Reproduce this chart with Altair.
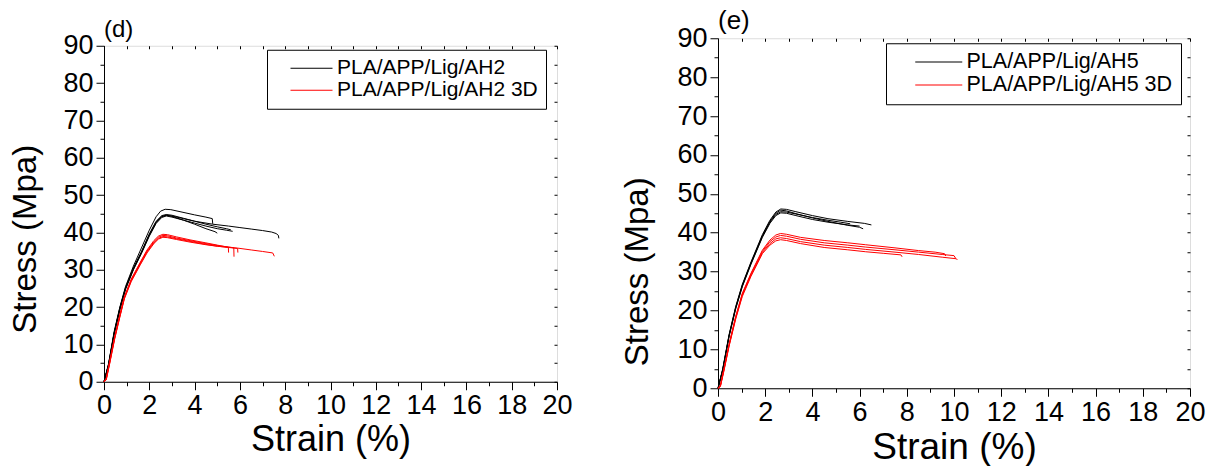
import altair as alt
import pandas as pd

# ---- (d) PLA/APP/Lig/AH2 : injection moulded replicates (strain %, stress MPa)
D_AH2_1 = [(0, 0), (0.2, 4.8), (0.45, 13.5), (0.7, 20), (0.95, 25.5), (1.3, 31), (1.65, 35.8),
           (2.0, 40.6), (2.3, 44.2), (2.5, 45.7), (2.7, 46.2), (2.95, 46.1), (3.4, 45.5),
           (4.0, 44.7), (4.5, 44.1), (4.78, 43.7), (4.8, 42.3)]
D_AH2_2 = [(0, 0), (0.2, 4.5), (0.45, 13), (0.7, 19.5), (0.95, 25), (1.3, 30.2), (1.65, 34.5),
           (2.0, 39.2), (2.3, 42.6), (2.55, 44.2), (2.75, 44.6), (3.0, 44.3), (3.5, 43.3),
           (4.0, 42.2), (4.5, 41.0), (4.9, 40.2), (5.0, 39.8)]
D_AH2_3 = [(0, 0), (0.2, 4.3), (0.45, 12.8), (0.7, 19.2), (0.95, 24.7), (1.3, 30), (1.65, 34.3),
           (2.0, 39), (2.3, 42.4), (2.55, 44), (2.75, 44.4), (3.0, 44.1), (3.5, 43.3),
           (4.0, 42.5), (4.5, 41.7), (5.0, 41.0), (5.4, 40.6), (5.68, 40.3)]
D_AH2_4 = [(0, 0), (0.2, 4.6), (0.45, 13.2), (0.7, 19.8), (0.95, 25.2), (1.3, 30.5), (1.65, 34.8),
           (2.0, 39.6), (2.3, 43), (2.55, 44.5), (2.75, 44.8), (3.0, 44.6), (3.5, 43.8),
           (4.0, 43.0), (4.5, 42.2), (5.0, 41.5), (5.4, 41.0), (5.6, 40.7)]
D_AH2_5 = [(0, 0), (0.2, 4.4), (0.45, 13), (0.7, 19.6), (0.95, 25), (1.3, 30.3), (1.65, 34.6),
           (2.0, 39.4), (2.3, 42.8), (2.55, 44.3), (2.75, 44.6), (3.0, 44.4), (3.5, 43.7),
           (4.0, 43.0), (4.8, 42.2), (5.5, 41.7), (6.0, 41.3), (6.5, 40.9), (7.0, 40.5),
           (7.4, 40.1), (7.6, 39.7), (7.7, 39.2), (7.72, 38.4)]

# ---- (d) PLA/APP/Lig/AH2 3D : printed replicates
D_3D_1 = [(0, 0), (0.1, 1), (0.25, 5.5), (0.47, 12), (0.7, 18), (0.9, 22.8), (1.2, 27.5),
          (1.6, 32), (1.9, 35.3), (2.2, 37.8), (2.4, 39), (2.6, 39.5), (2.8, 39.4), (3.2, 38.8),
          (3.8, 38), (4.5, 37.2), (5.0, 36.6), (5.49, 36.0), (5.5, 34.6)]
D_3D_2 = [(0, 0), (0.1, 0.8), (0.25, 5.2), (0.47, 11.8), (0.7, 17.7), (0.9, 22.6), (1.2, 27.2),
          (1.6, 31.8), (1.9, 35), (2.2, 37.5), (2.4, 38.7), (2.6, 39.2), (2.8, 39.1), (3.2, 38.5),
          (3.8, 37.8), (4.5, 37.0), (5.0, 36.5), (5.73, 35.9), (5.74, 33.5)]
D_3D_3 = [(0, 0), (0.1, 0.6), (0.25, 5.0), (0.47, 11.6), (0.7, 17.5), (0.9, 22.4), (1.2, 27),
          (1.6, 31.5), (1.9, 34.8), (2.2, 37.2), (2.4, 38.4), (2.6, 38.9), (2.8, 38.8), (3.2, 38.3),
          (3.8, 37.6), (4.5, 36.8), (5.0, 36.3), (5.9, 35.7), (5.91, 34.6)]
D_3D_4 = [(0, 0), (0.1, 0.5), (0.25, 4.8), (0.47, 11.4), (0.7, 17.3), (0.9, 22.2), (1.2, 26.8),
          (1.6, 31.3), (1.9, 34.5), (2.2, 37.0), (2.4, 38.2), (2.6, 38.7), (2.8, 38.6), (3.2, 38.1),
          (3.8, 37.4), (4.5, 36.7), (5.0, 36.3), (5.9, 35.8), (6.5, 35.3), (7.0, 34.9),
          (7.45, 34.5), (7.52, 33.6)]

# ---- (e) PLA/APP/Lig/AH5 : injection moulded replicates
E_AH5_1 = [(0, 0), (0.2, 5), (0.47, 13.8), (0.75, 21), (1.03, 26.7), (1.4, 32.5), (1.88, 39.5),
           (2.2, 43.2), (2.45, 45.3), (2.66, 46.1), (2.9, 46.0), (3.3, 45.4), (4.0, 44.4),
           (4.66, 43.6), (5.5, 42.9), (6.2, 42.4), (6.5, 42.0)]
E_AH5_2 = [(0, 0), (0.2, 4.8), (0.47, 13.6), (0.75, 20.8), (1.03, 26.5), (1.4, 32.3), (1.88, 39.2),
           (2.2, 42.9), (2.45, 45.0), (2.66, 45.8), (2.9, 45.6), (3.3, 44.9), (4.0, 43.8),
           (4.66, 42.9), (5.5, 41.9), (6.0, 41.4), (6.15, 41.0)]
E_AH5_3 = [(0, 0), (0.2, 4.7), (0.47, 13.5), (0.75, 20.6), (1.03, 26.3), (1.4, 32.1), (1.88, 39.0),
           (2.2, 42.7), (2.45, 44.7), (2.66, 45.4), (2.9, 45.3), (3.3, 44.8), (4.0, 43.9),
           (4.66, 43.2), (5.2, 42.7), (5.6, 42.3)]
E_AH5_4 = [(0, 0), (0.2, 4.6), (0.47, 13.3), (0.75, 20.4), (1.03, 26.1), (1.4, 31.9), (1.88, 38.8),
           (2.2, 42.4), (2.45, 44.4), (2.66, 45.1), (2.9, 45.0), (3.3, 44.4), (4.0, 43.4),
           (4.66, 42.7), (5.5, 42.0), (6.0, 41.7)]

# ---- (e) PLA/APP/Lig/AH5 3D : printed replicates
E_3D_1 = [(0, 0), (0.1, 0.8), (0.25, 5), (0.47, 11.4), (0.75, 18.5), (1.03, 24.4), (1.4, 29.6),
          (1.88, 35.5), (2.2, 38.1), (2.45, 39.4), (2.65, 39.8), (2.9, 39.6), (3.5, 38.8),
          (4.5, 38.0), (5.5, 37.4), (6.26, 36.9), (7.5, 36.1), (8.5, 35.4), (9.2, 35.0),
          (9.6, 34.6), (9.65, 34.0)]
E_3D_2 = [(0, 0), (0.1, 0.6), (0.25, 4.8), (0.47, 11.2), (0.75, 18.3), (1.03, 24.2), (1.4, 29.4),
          (1.88, 35.2), (2.2, 37.7), (2.45, 38.9), (2.65, 39.3), (2.9, 39.1), (3.5, 38.3),
          (4.5, 37.4), (5.5, 36.8), (6.26, 36.3), (7.5, 35.6), (8.5, 35.0), (9.5, 34.4),
          (10.0, 34.1), (10.07, 33.4)]
E_3D_3 = [(0, 0), (0.1, 0.5), (0.25, 4.6), (0.47, 11.0), (0.75, 18.0), (1.03, 23.9), (1.4, 29.1),
          (1.88, 34.9), (2.2, 37.2), (2.45, 38.4), (2.65, 38.7), (2.9, 38.5), (3.5, 37.7),
          (4.5, 36.8), (5.5, 36.2), (6.26, 35.7), (7.5, 35.0), (8.5, 34.4), (9.5, 33.7),
          (10.1, 33.3), (10.14, 33.0)]
E_3D_4 = [(0, 0), (0.1, 0.4), (0.25, 4.4), (0.47, 10.8), (0.75, 17.8), (1.03, 23.6), (1.4, 28.8),
          (1.88, 34.6), (2.2, 36.8), (2.45, 37.9), (2.65, 38.2), (2.9, 38.0), (3.5, 37.2),
          (4.5, 36.2), (5.5, 35.6), (6.26, 35.1), (7.0, 34.7), (7.75, 34.3), (7.8, 33.8)]

D_NAMES = ["PLA/APP/Lig/AH2", "PLA/APP/Lig/AH2 3D"]
E_NAMES = ["PLA/APP/Lig/AH5", "PLA/APP/Lig/AH5 3D"]
SERIES_COLORS = ["#000000", "#ff0000"]

X_TICKS = list(range(0, 21))
Y_TICKS = list(range(0, 91, 5))
FONT = "Liberation Sans"


def to_frame(groups):
    rows = []
    for series, curves in groups:
        for k, pts in enumerate(curves):
            for i, (sx, sy) in enumerate(pts):
                rows.append({"series": series, "rep": f"{series}#{k}", "idx": i,
                             "strain": sx, "stress": sy})
    return pd.DataFrame(rows)


def panel(df, tag, names, w, h, lx, ly, x_title_size, y_title_size, y_title_pad,
          y_title_shift, tag_size, legend_size, sample_path, sym_offset, lab_offset):
    xs = alt.Scale(domain=[0, 20], nice=False, zero=False)
    ys = alt.Scale(domain=[0, 90], nice=False)
    common = dict(labelFlush=False, labelFontSize=27, titleFontWeight="normal", grid=False,
                  domainColor="black", tickColor="black", labelColor="black",
                  titleColor="black")
    x_axis = alt.Axis(
        values=X_TICKS, labelExpr="datum.value % 2 === 0 ? datum.label : ''",
        tickSize={"condition": {"test": "datum.value % 2 === 0", "value": 8}, "value": 4},
        labelPadding=3, titlePadding=4, titleFontSize=x_title_size, **common,
    )
    y_axis = alt.Axis(
        values=Y_TICKS, labelExpr="datum.value % 10 === 0 ? datum.label : ''",
        tickSize={"condition": {"test": "datum.value % 10 === 0", "value": 8}, "value": 4},
        labelPadding=3, titlePadding=y_title_pad, titleFontSize=y_title_size,
        titleY=h / 2 + y_title_shift, **common,
    )
    legend = alt.Legend(
        title=None, orient="none", legendX=lx, legendY=ly, strokeColor="black",
        fillColor="white", padding=8, labelFontSize=legend_size, labelColor="black",
        symbolType=sample_path, symbolSize=100, symbolStrokeWidth=1.2,
        symbolOffset=sym_offset, labelOffset=lab_offset, rowPadding=0, labelLimit=400,
    )
    lines = alt.Chart(df).mark_line(strokeWidth=1).encode(
        x=alt.X("strain:Q", scale=xs, title="Strain (%)", axis=x_axis),
        y=alt.Y("stress:Q", scale=ys, title="Stress (Mpa)", axis=y_axis),
        color=alt.Color("series:N", scale=alt.Scale(domain=names, range=SERIES_COLORS),
                        legend=legend),
        detail="rep:N",
        order="idx:Q",
    )
    # mirrored top / right axes carrying short inward ticks
    mirror = alt.Chart(df).mark_line(opacity=0).encode(
        x=alt.X("strain:Q", scale=xs,
                axis=alt.Axis(orient="top", values=X_TICKS, labels=False, domain=False,
                              title=None, tickSize=3, offset=-3, grid=False, tickColor="black")),
        y=alt.Y("stress:Q", scale=ys,
                axis=alt.Axis(orient="right", values=Y_TICKS, labels=False, domain=False,
                              title=None, tickSize=3, offset=-3, grid=False, tickColor="black")),
        detail="rep:N",
        order="idx:Q",
    )
    return alt.layer(lines, mirror).resolve_axis(x="independent", y="independent").properties(
        width=w, height=h,
        title=alt.TitleParams(tag, anchor="start", frame="group", fontSize=tag_size,
                              fontWeight="normal", offset=-10, color="black"),
    )


d_df = to_frame([(D_NAMES[0], [D_AH2_1, D_AH2_2, D_AH2_3, D_AH2_4, D_AH2_5]),
                 (D_NAMES[1], [D_3D_1, D_3D_2, D_3D_3, D_3D_4])])
e_df = to_frame([(E_NAMES[0], [E_AH5_1, E_AH5_2, E_AH5_3, E_AH5_4]),
                 (E_NAMES[1], [E_3D_1, E_3D_2, E_3D_3, E_3D_4])])

left = panel(d_df, "(d)", D_NAMES, 453, 336, 163, 4, 36, 33, 20, 25, 24, 21,
             "M-4.2,0H4.2", 26, 15)
right = panel(e_df, "(e)", E_NAMES, 472, 350, 168, 5, 37, 33, 22, 58, 26, 21.5,
              "M-4.7,0H4.7", 34, 17)

chart = alt.hconcat(left, right, spacing=48, center=True).resolve_scale(
    color="independent"
).properties(
    padding={"left": 9, "top": 7, "right": 0, "bottom": 0}
).configure_view(
    stroke="black", strokeWidth=1
).configure(
    font=FONT, background="white"
)

chart.save("out.html", embed_options={"renderer": "svg", "actions": False})
